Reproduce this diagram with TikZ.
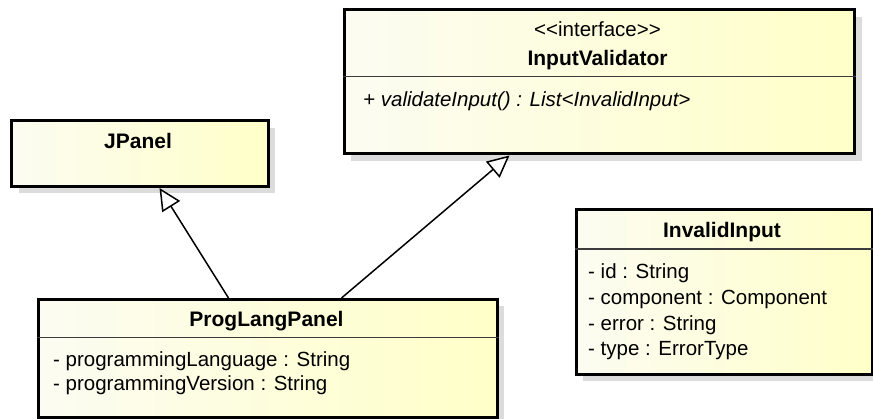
\documentclass[tikz,border=0pt]{standalone}
\usepackage{fontspec}
\setmainfont{Liberation Sans}
\usetikzlibrary{arrows.meta,shadows}

\definecolor{boxleft}{RGB}{252,252,242}
\definecolor{boxright}{RGB}{255,255,200}
\definecolor{shadowgray}{RGB}{220,220,220}
\definecolor{sepgray}{RGB}{60,60,60}

\tikzset{
  classbox/.style={draw=black, line width=3pt, rectangle, inner sep=0pt,
    anchor=north west, left color=boxleft, right color=boxright,
    drop shadow={shadow xshift=7pt, shadow yshift=-7pt, fill=shadowgray, opacity=1}},
  septext/.style={draw=sepgray, line width=1.5pt},
  title/.style={font=\fontsize{21}{24}\selectfont\bfseries, inner sep=0pt, anchor=base},
  stereo/.style={font=\fontsize{20.5}{24}\selectfont, inner sep=0pt, anchor=base},
  member/.style={font=\fontsize{20.5}{24}\selectfont, inner sep=0pt, anchor=base west},
  opmember/.style={font=\fontsize{20.5}{24}\selectfont\itshape, inner sep=0pt, anchor=base west},
  realize/.style={line width=1.5pt, -{Triangle[fill=white, length=22pt, width=21pt]}}
}

\begin{document}
\begin{tikzpicture}[x=1pt, y=-1pt]
\useasboundingbox (0,0) rectangle (873,419);

% class boxes
\node[classbox, minimum width=510.5pt, minimum height=144pt] (iv) at (342.5,8.5) {};
\node[classbox, minimum width=256.5pt, minimum height=65.5pt] (jp) at (10,119.5) {};
\node[classbox, minimum width=296pt, minimum height=164.5pt] (ii) at (574.5,208.5) {};
\node[classbox, minimum width=458.5pt, minimum height=118.5pt] (plp) at (37,298) {};

% compartment separators
\draw[septext] (iv.west |- 0,76.5) -- (iv.east |- 0,76.5);
\draw[septext] (ii.west |- 0,249) -- (ii.east |- 0,249);
\draw[septext] (plp.west |- 0,337.5) -- (plp.east |- 0,337.5);

% InputValidator (braces keep << and >> from turning into guillemets)
\node[stereo] (ivst) at (597.5,36.5) {<{}<interface>{}>};
\node[title] (ivname) at (597.5,66) {InputValidator};
\node[opmember] (ivop) at (363,106.5) {+ validateInput() : List<InvalidInput>};

% JPanel
\node[title] (jpname) at (138,148.5) {JPanel};

% InvalidInput
\node[title] (iiname) at (722,237.5) {InvalidInput};
\node[member] (iia1) at (588,279) {- id : String};
\node[member] (iia2) at (588,305) {- component : Component};
\node[member] (iia3) at (588,331) {- error : String};
\node[member] (iia4) at (588,356) {- type : ErrorType};

% ProgLangPanel
\node[title] (plpname) at (266.5,326.5) {ProgLangPanel};
\node[member] (plpa1) at (53,367) {- programmingLanguage : String};
\node[member] (plpa2) at (53,391) {- programmingVersion : String};

% generalization and realization
\draw[realize] ([xshift=191.5pt]plp.north west) -- ([xshift=149.5pt]jp.south west);
\draw[realize] ([xshift=304.5pt]plp.north west) -- ([xshift=167pt]iv.south west);
\end{tikzpicture}
\end{document}
